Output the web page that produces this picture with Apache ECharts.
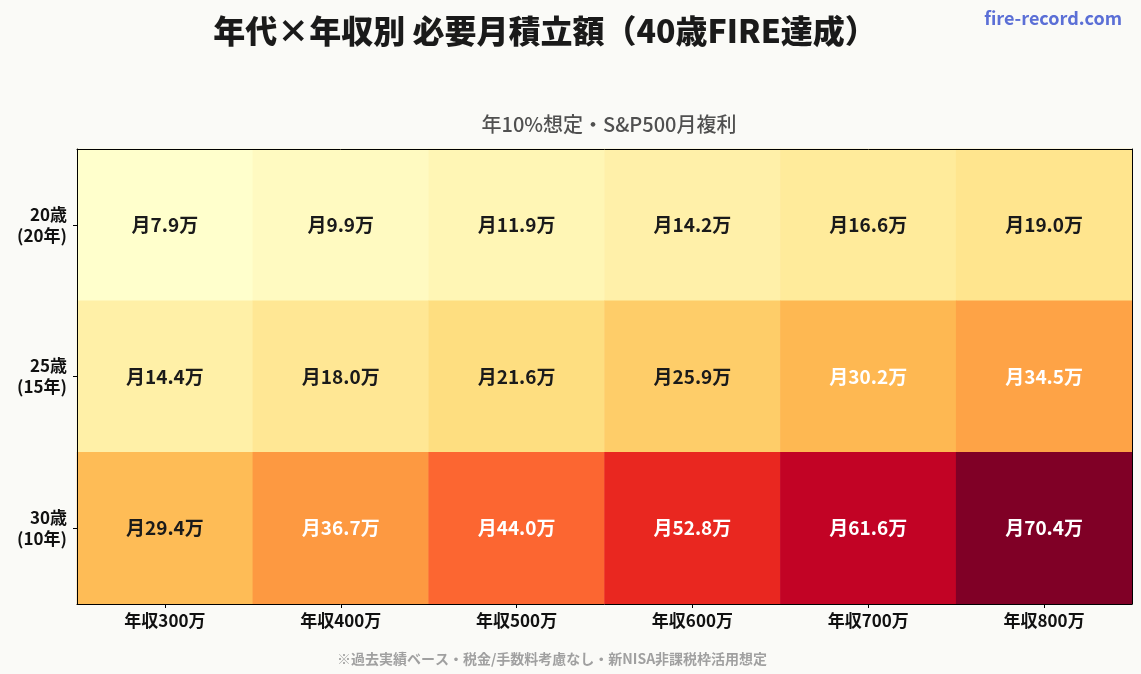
<!DOCTYPE html>
<html>
<head>
<meta charset="utf-8">
<script src="https://cdn.jsdelivr.net/npm/echarts@6/dist/echarts.min.js"></script>
<style>
  html, body { margin: 0; padding: 0; background: #fafaf7; }
  #main { width: 1141px; height: 674px; }
</style>
</head>
<body>
<div id="main"></div>
<script>
var incomes = ['年収300万', '年収400万', '年収500万', '年収600万', '年収700万', '年収800万'];
var ages = ['20歳\n(20年)', '25歳\n(15年)', '30歳\n(10年)'];
// monthly amount (万円), one row per age
var row20 = [7.9, 9.9, 11.9, 14.2, 16.6, 19.0];
var row25 = [14.4, 18.0, 21.6, 25.9, 30.2, 34.5];
var row30 = [29.4, 36.7, 44.0, 52.8, 61.6, 70.4];

var rows = [row20, row25, row30];
var data = [];
rows.forEach(function (r, yi) {
    r.forEach(function (v, xi) {
        // white text on the darker cells
        data.push({ value: [xi, yi, v], label: { color: v > 30 ? '#fff' : '#1a1a1a' } });
    });
});

var font = '"Noto Sans CJK JP", "Noto Sans", sans-serif';
var frame = { show: true, lineStyle: { color: '#000', width: 1 } };

var option = {
    backgroundColor: '#fafaf7',
    textStyle: { fontFamily: font },
    title: [
        { text: '年代×年収別 必要月積立額（40歳FIRE達成）', left: 540, top: 10, textAlign: 'center',
          textStyle: { fontSize: 32, fontWeight: 900, color: '#1a1a1a', fontFamily: font } },
        { text: '年10%想定・S&P500月複利', left: 604, top: 109, textAlign: 'center',
          textStyle: { fontSize: 20, fontWeight: 500, color: '#505050', fontFamily: font } },
        { text: '※過去実績ベース・税金/手数料考慮なし・新NISA非課税枠活用想定', left: 547, top: 647, textAlign: 'center',
          textStyle: { fontSize: 14, fontWeight: 'bold', color: '#a0a0a0', fontFamily: font } },
        { text: 'fire-record.com', right: 14, top: 4,
          textStyle: { fontSize: 18, fontWeight: 'bold', color: '#5b6fd6', fontFamily: font } }
    ],
    grid: { left: 77, right: 9, top: 149, bottom: 70 },
    xAxis: [{
        type: 'category', data: incomes,
        axisLine: frame,
        axisTick: { show: true, alignWithLabel: true, length: 4, lineStyle: { color: '#000' } },
        axisLabel: { fontSize: 17, fontWeight: 'bold', color: '#111', margin: 8 },
        splitLine: { show: false }, splitArea: { show: false }, z: 10
    }, {
        type: 'category', data: incomes, position: 'top',
        axisLine: frame, axisTick: { show: false }, axisLabel: { show: false },
        splitLine: { show: false }, splitArea: { show: false }, z: 10
    }],
    yAxis: [{
        type: 'category', data: ages, inverse: true,
        axisLine: frame,
        axisTick: { show: true, alignWithLabel: true, length: 4, lineStyle: { color: '#000' } },
        axisLabel: { fontSize: 17, fontWeight: 'bold', color: '#111', margin: 10, align: 'right', lineHeight: 21 },
        splitLine: { show: false }, splitArea: { show: false }, z: 10
    }, {
        type: 'category', data: ages, inverse: true, position: 'right',
        axisLine: frame, axisTick: { show: false }, axisLabel: { show: false },
        splitLine: { show: false }, splitArea: { show: false }, z: 10
    }],
    visualMap: {
        show: false, type: 'continuous', min: 7.9, max: 70.4, dimension: 2,
        inRange: { color: ['#ffffcc', '#ffeda0', '#fed976', '#feb24c', '#fd8d3c', '#fc4e2a', '#e31a1c', '#bd0026', '#800026'] }
    },
    series: [{
        type: 'heatmap',
        data: data,
        itemStyle: { borderWidth: 0 },
        label: {
            show: true, fontSize: 19, fontWeight: 'bold', fontFamily: font,
            formatter: function (p) { return '月' + p.value[2].toFixed(1) + '万'; }
        }
    }]
};

var myChart = echarts.init(document.getElementById('main'));
myChart.setOption(option);
</script>
</body>
</html>
